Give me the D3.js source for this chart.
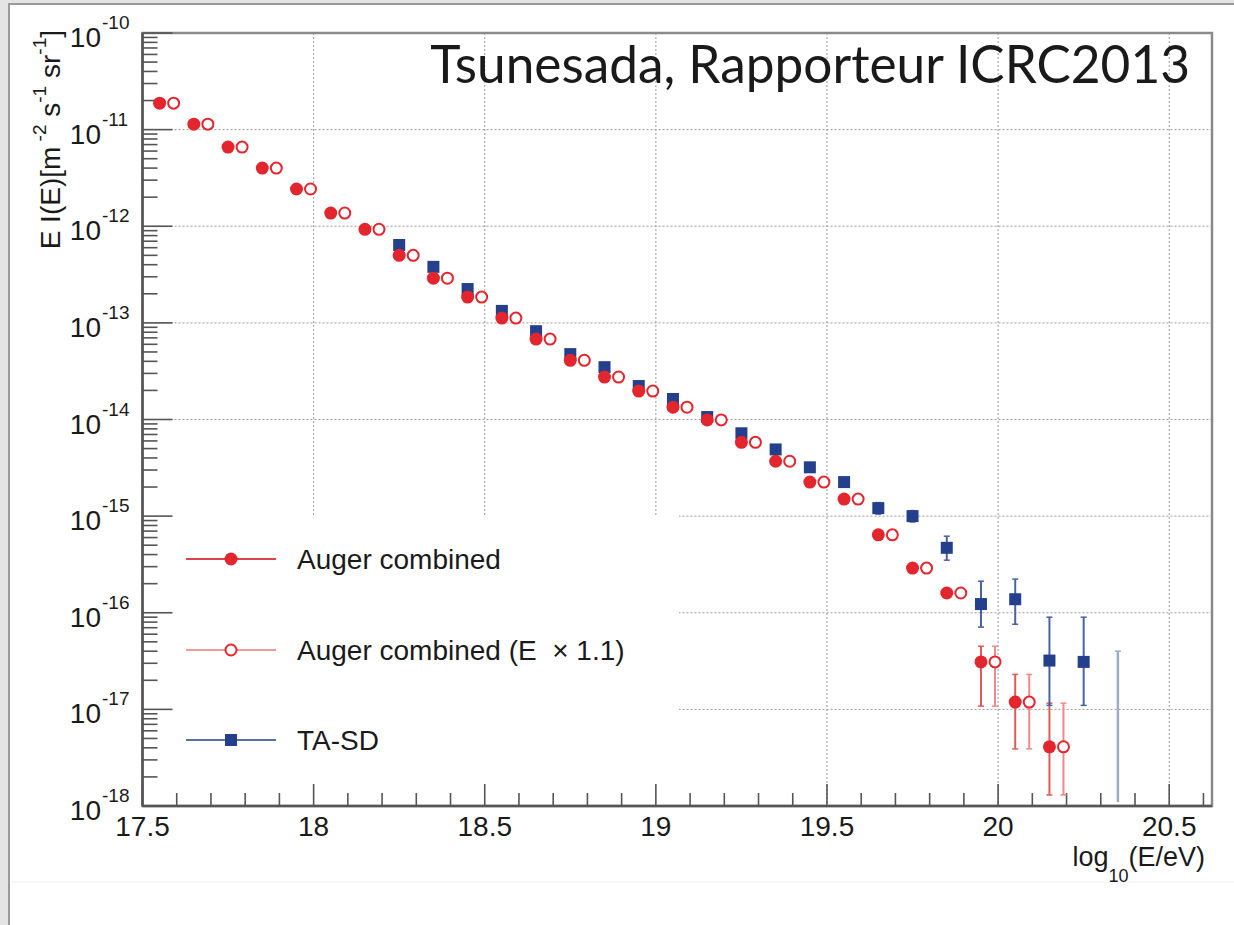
<!DOCTYPE html>
<html><head><meta charset="utf-8">
<script src="https://cdn.jsdelivr.net/npm/d3@7"></script>
<style>
body{margin:0;background:#fff}
svg{display:block}
text{font-family:"Liberation Sans",Arial,Helvetica,sans-serif;fill:#1a1a1a}
</style>
</head><body><svg id="c" width="1234" height="925"></svg>
<script>
// ---------- data (log10(E/eV), E I(E) in m^-2 s^-1 sr^-1) ----------
const augerX = [17.55,17.65,17.75,17.85,17.95,18.05,18.15,18.25,18.35,18.45,18.55,18.65,18.75,18.85,18.95,19.05,19.15,19.25,19.35,19.45,19.55,19.65,19.75,19.85,19.95,20.05,20.15];
const augerY = [1.88e-11,1.14e-11,6.6e-12,4.0e-12,2.43e-12,1.37e-12,9.3e-13,5.0e-13,2.9e-13,1.85e-13,1.12e-13,6.8e-14,4.1e-14,2.75e-14,1.97e-14,1.34e-14,9.9e-15,5.8e-15,3.7e-15,2.25e-15,1.5e-15,6.4e-16,2.9e-16,1.6e-16,3.1e-17,1.19e-17,4.1e-18];
const augerLo = [null,null,null,null,null,null,null,null,null,null,null,null,null,null,null,null,null,null,null,null,null,null,null,1.45e-16,1.08e-17,3.9e-18,1.3e-18];
const augerHi = [null,null,null,null,null,null,null,null,null,null,null,null,null,null,null,null,null,null,null,null,null,null,null,1.77e-16,4.5e-17,2.3e-17,1.16e-17];
const augerScaledX = [17.591,17.691,17.791,17.891,17.991,18.091,18.191,18.291,18.391,18.491,18.591,18.691,18.791,18.891,18.991,19.091,19.191,19.291,19.391,19.491,19.591,19.691,19.791,19.891,19.991,20.091,20.191];
const taX  = [18.25,18.35,18.45,18.55,18.65,18.75,18.85,18.95,19.05,19.15,19.25,19.35,19.45,19.55,19.65,19.75,19.85,19.95,20.05,20.15,20.25];
const taY  = [6.4e-13,3.8e-13,2.24e-13,1.33e-13,8.2e-14,4.75e-14,3.48e-14,2.22e-14,1.63e-14,1.06e-14,7.2e-15,4.9e-15,3.2e-15,2.25e-15,1.21e-15,1.0e-15,4.7e-16,1.23e-16,1.38e-16,3.2e-17,3.1e-17];
const taLo = [null,null,null,null,null,null,null,null,null,null,null,null,null,null,1.05e-15,0.87e-15,3.5e-16,7.1e-17,7.6e-17,1.1e-17,1.1e-17];
const taHi = [null,null,null,null,null,null,null,null,null,null,null,null,null,null,1.38e-15,1.14e-15,6.2e-16,2.12e-16,2.23e-16,9.0e-17,9.0e-17];
const taLimitX = [20.35];
const taLimitHi = [4.0e-17];
const xMajor = [17.5,18,18.5,19,19.5,20,20.5];
const xTickLabels = ["17.5","18","18.5","19","19.5","20","20.5"];
const yDecades = [-10,-11,-12,-13,-14,-15,-16,-17,-18];
const legendLabels = ["Auger combined","Auger combined (E  \u00d7 1.1)","TA-SD"];
const titleText = "Tsunesada, Rapporteur ICRC2013";

// ---------- layout ----------
const L=142.5, R=1212, T=33, B=806;
const svg = d3.select("#c");
const x = d3.scaleLinear().domain([17.5,20.625]).range([L,R]);
const y = d3.scaleLog().domain([1e-18,1e-10]).range([B,T]);
const RED="#e3252e", REDERR="#e05a5a", PINK="#f08a8a", BLUE="#243f8c", BLUEERR="#4a62a4", BLUEPALE="#9eabc6";

// outer screenshot frame
svg.append("rect").attr("x",0).attr("y",0).attr("width",1234).attr("height",925).attr("fill","#fff");
svg.append("rect").attr("x",0).attr("y",0).attr("width",8).attr("height",925).attr("fill","#e4e4e4");
svg.append("rect").attr("x",0).attr("y",0).attr("width",1234).attr("height",3).attr("fill","#e4e4e4");
svg.append("line").attr("x1",9).attr("x2",9).attr("y1",3).attr("y2",925).attr("stroke","#9a9a9a").attr("stroke-width",2);
svg.append("line").attr("x1",8).attr("x2",1234).attr("y1",4).attr("y2",4).attr("stroke","#9a9a9a").attr("stroke-width",2);
svg.append("line").attr("x1",10).attr("x2",1234).attr("y1",882).attr("y2",882).attr("stroke","#f0f0f0").attr("stroke-width",1);

// grid
const grid = svg.append("g");
grid.selectAll(".gx").data(xMajor.slice(1)).join("line")
  .attr("x1",d=>x(d)).attr("x2",d=>x(d)).attr("y1",T).attr("y2",B)
  .attr("stroke","#9a9a9a").attr("stroke-width",1).attr("stroke-dasharray","2,2");
grid.selectAll(".gy").data(yDecades.slice(1,-1)).join("line")
  .attr("x1",L).attr("x2",R).attr("y1",d=>y(Math.pow(10,d))).attr("y2",d=>y(Math.pow(10,d)))
  .attr("stroke","#9a9a9a").attr("stroke-width",1).attr("stroke-dasharray","2,2");

// legend background (no border) hides grid
svg.append("rect").attr("x",L+1).attr("y",515).attr("width",678-L).attr("height",B-515-2).attr("fill","#fff");

// frame
svg.append("rect").attr("x",L).attr("y",T).attr("width",R-L).attr("height",B-T)
  .attr("fill","none").attr("stroke","#8a8a8a").attr("stroke-width",2.5);
svg.append("line").attr("x1",L).attr("x2",L).attr("y1",T).attr("y2",B).attr("stroke","#555").attr("stroke-width",2.5);
svg.append("line").attr("x1",L).attr("x2",R).attr("y1",B).attr("y2",B).attr("stroke","#555").attr("stroke-width",2.5);

// y ticks
const yt = y.ticks();
svg.append("g").selectAll("line").data(yt).join("line")
  .attr("x1",L).attr("x2",d=>Math.abs(Math.log10(d)-Math.round(Math.log10(d)))<1e-6?L+30:L+15)
  .attr("y1",d=>y(d)).attr("y2",d=>y(d)).attr("stroke","#555").attr("stroke-width",1.6);
const yl = svg.append("g");
yDecades.forEach(e=>{
  const yy = y(Math.pow(10,e));
  yl.append("text").attr("x",101).attr("y",yy+14).attr("text-anchor","end").attr("font-size",28).text("10");
  yl.append("text").attr("x",102).attr("y",yy-4).attr("font-size",19).text(String(e));
});

// x ticks
const xMinor = d3.range(0,32).map(i=>17.5+i*0.1).filter(v=>v<=20.62);
svg.append("g").selectAll("line").data(xMinor).join("line")
  .attr("x1",d=>x(d)).attr("x2",d=>x(d)).attr("y1",B)
  .attr("y2",(d,i)=>i%5===0?B-22:B-13).attr("stroke","#555").attr("stroke-width",1.6);
svg.append("g").selectAll("text").data(xMajor).join("text")
  .attr("x",d=>x(d)).attr("y",836).attr("text-anchor","middle").attr("font-size",28)
  .text((d,i)=>xTickLabels[i]);

// axis titles
const xt = svg.append("text").attr("x",1205).attr("y",866).attr("text-anchor","end").attr("font-size",27);
xt.append("tspan").text("log");
xt.append("tspan").attr("font-size",18).attr("dy",16).text("10");
xt.append("tspan").attr("dy",-16).text("(E/eV)");

const ytl = svg.append("text").attr("transform","translate(60,30) rotate(-90)").attr("text-anchor","end").attr("font-size",28);
ytl.append("tspan").text("E I(E)[m");
ytl.append("tspan").attr("font-size",19).attr("dy",-14).text(" -2");
ytl.append("tspan").attr("dy",14).text(" s");
ytl.append("tspan").attr("font-size",19).attr("dy",-14).text("-1");
ytl.append("tspan").attr("dy",14).text(" sr");
ytl.append("tspan").attr("font-size",19).attr("dy",-14).text("-1");
ytl.append("tspan").attr("dy",14).text("]");

// error bars helper
function errBars(g, xs, lo, hi, color, w){
  const idx = xs.map((d,i)=>i).filter(i=>lo[i]!=null);
  idx.forEach(i=>{
    const y1=y(Math.max(hi[i],1e-18)), y2=y(Math.max(lo[i],1e-18)), xx=x(xs[i]);
    g.append("line").attr("x1",xx).attr("x2",xx).attr("y1",y1).attr("y2",Math.min(y2,B-4)).attr("stroke",color).attr("stroke-width",w);
    g.append("line").attr("x1",xx-3).attr("x2",xx+3).attr("y1",y1).attr("y2",y1).attr("stroke",color).attr("stroke-width",1.5);
    if(y2<B-4) g.append("line").attr("x1",xx-3).attr("x2",xx+3).attr("y1",y2).attr("y2",y2).attr("stroke",color).attr("stroke-width",1.5);
  });
}
const data = svg.append("g");
errBars(data, augerX, augerLo, augerHi, REDERR, 2);
errBars(data, augerScaledX, augerLo, augerHi, PINK, 2);
errBars(data, taX, taLo, taHi, BLUEERR, 2);
taLimitX.forEach((v,i)=>{
  const xx=x(v), y1=y(taLimitHi[i]);
  data.append("line").attr("x1",xx).attr("x2",xx).attr("y1",y1).attr("y2",B-4).attr("stroke",BLUEPALE).attr("stroke-width",2.5);
  data.append("line").attr("x1",xx-3).attr("x2",xx+3).attr("y1",y1).attr("y2",y1).attr("stroke",BLUEPALE).attr("stroke-width",1.5);
});

// markers
data.selectAll(".ta").data(taX).join("rect")
  .attr("x",(d)=>x(d)-6).attr("y",(d,i)=>y(taY[i])-6).attr("width",12).attr("height",12).attr("fill",BLUE);
data.selectAll(".ao").data(augerScaledX).join("circle")
  .attr("cx",d=>x(d)).attr("cy",(d,i)=>y(augerY[i])).attr("r",5.5)
  .attr("fill","#fff").attr("stroke",RED).attr("stroke-width",2);
data.selectAll(".af").data(augerX).join("circle")
  .attr("cx",d=>x(d)).attr("cy",(d,i)=>y(augerY[i])).attr("r",6.5).attr("fill",RED);

// legend
const leg = svg.append("g");
const legY=[559,650,740];
const legLine=["#d8444a","#f09a9a","#5a6ea6"];
legY.forEach((ly,i)=>{
  leg.append("line").attr("x1",186).attr("x2",276).attr("y1",ly).attr("y2",ly).attr("stroke",legLine[i]).attr("stroke-width",2);
  if(i===0) leg.append("circle").attr("cx",231).attr("cy",ly).attr("r",6.5).attr("fill",RED);
  if(i===1) leg.append("circle").attr("cx",231).attr("cy",ly).attr("r",5.5).attr("fill","#fff").attr("stroke",RED).attr("stroke-width",2);
  if(i===2) leg.append("rect").attr("x",225).attr("y",ly-6).attr("width",12).attr("height",12).attr("fill",BLUE);
  leg.append("text").attr("x",297).attr("y",ly+10).attr("font-size",28).style("white-space","pre").text(legendLabels[i]);
});

// title
const tt = svg.append("text").attr("x",1190).attr("y",83).attr("text-anchor","end")
  .style("font-family","Lato, 'Open Sans', sans-serif").attr("font-size",50).text(titleText);
const w = tt.node().getComputedTextLength();
tt.attr("font-size", 50*760/w);
</script>
</body></html>
